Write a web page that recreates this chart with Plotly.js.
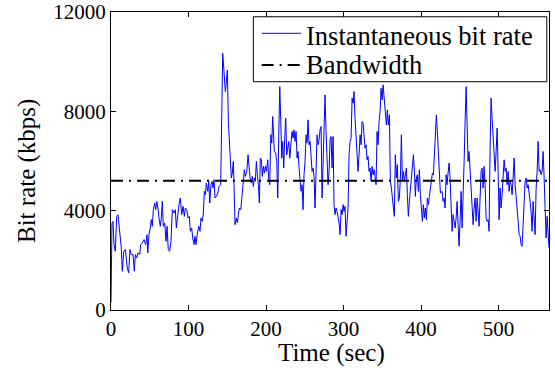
<!DOCTYPE html>
<html>
<head>
<meta charset="utf-8">
<script src="https://cdn.plot.ly/plotly-3.0.1.min.js"></script>
<style>html,body{margin:0;padding:0;background:#fff;}#chart{width:555px;height:372px;}</style>
</head>
<body>
<div id="chart"></div>
<script>
// Time (sec)
var timeSec = [
0,1.3,2.6,3.9,5.5,7.4,9.0,11.2,13.3,14.6,16.4,18.5,19.7,21.0,22.8,24.5,26.2,28.4,30.1,31.4,
33.2,34.8,37.0,38.3,40.4,42.6,44.8,46.5,47.4,49.0,50.7,52.0,53.3,54.6,56.4,57.7,59.0,60.6,61.9,63.6,
64.9,66.2,67.5,69.3,71.0,72.3,73.9,75.7,77.4,79.1,81.3,83.0,84.3,86.1,87.7,89.4,91.2,92.9,94.6,95.9,
97.7,99.4,101.0,102.3,104.1,105.4,107.1,108.4,109.7,111.4,113.2,114.8,116.1,117.8,119.1,120.4,121.7,123.0,124.8,126.1,
127.4,129.0,130.3,131.6,132.9,134.2,135.9,137.7,139.4,141.5,142.8,144.1,145.8,147.5,148.8,150.1,151.4,152.6,153.9,155.2,
156.5,157.8,158.7,160.0,161.7,163.0,164.3,165.5,167.4,168.6,170.3,172.0,173.3,175.1,176.8,178.1,179.4,181.0,182.3,183.6,
184.9,186.2,187.5,188.8,190.1,191.4,192.6,193.9,195.2,196.5,197.8,199.1,200.4,202.2,203.5,204.8,206.1,207.4,208.6,210.7,
212.5,213.8,215.1,216.4,217.7,219.0,220.3,221.5,222.8,224.1,225.4,226.7,228.0,229.3,230.6,
232.3,233.5,234.8,236.1,237.4,238.7,240.0,241.3,242.6,243.9,245.2,246.5,247.7,249.0,250.3,251.6,252.9,254.2,255.5,256.8,
258.1,259.4,260.6,261.9,263.2,264.5,265.8,267.1,268.4,269.7,271.0,272.3,273.5,274.8,276.1,277.4,278.7,280.0,281.3,282.6,
283.9,285.2,286.5,287.7,289.0,290.3,291.6,292.9,294.2,295.5,296.8,298.1,299.4,300.6,301.9,303.2,304.5,305.8,307.1,308.4,
309.7,311.0,312.3,313.5,314.8,316.1,317.4,318.7,320.0,321.3,322.6,323.9,325.2,326.5,327.7,329.0,330.3,331.6,332.9,334.2,
335.5,336.8,338.1,339.4,340.6,341.9,343.2,344.5,345.8,347.1,348.4,349.7,351.0,352.3,
353.9,355.2,356.5,357.8,359.1,360.4,361.7,363.0,364.3,365.5,366.8,368.1,369.4,370.7,372.0,373.3,374.6,375.9,377.2,378.5,
379.7,381.0,382.3,383.6,384.9,386.2,387.5,388.8,390.1,391.4,392.6,393.9,395.2,396.5,397.8,399.1,400.4,401.7,403.0,404.3,
405.5,406.8,408.1,409.4,410.7,412.0,413.3,414.6,415.9,417.2,418.5,419.7,421.0,422.3,423.6,424.9,
427.1,428.4,429.7,431.0,432.3,433.5,434.8,436.1,437.4,438.7,440.0,441.3,442.6,443.9,445.2,446.5,447.7,449.0,450.3,451.6,
452.9,454.2,455.5,456.8,458.1,459.4,460.6,461.9,463.2,464.5,465.8,467.1,468.4,469.7,471.0,472.3,473.5,474.8,476.1,477.4,
478.7,480.0,481.3,482.6,483.9,485.2,486.5,487.7,489.0,490.3,491.6,492.9,494.2,495.5,496.8,498.1,499.4,500.6,501.9,503.2,
504.5,505.8,507.1,508.4,509.7,511.0,512.3,513.5,514.8,516.1,517.4,518.7,520.0,521.3,522.6,523.9,525.2,526.5,527.7,529.0,
530.3,531.6,532.9,534.2,535.5,536.8,538.1,539.4,540.6,541.9,543.2,544.5,545.8,547.1,548.4,549.7,551.0,552.3,553.5,554.8,
556.1,557.4,558.7,560.0,561.3,562.6,563.9,565.0
];
// Instantaneous bit rate (kbps)
var bitRateKbps = [
300,3505,3570,2633,2364,3772,3840,3035,2500,1560,2364,2432,1962,1696,1495,2432,2231,2231,1560,2231,
2100,2300,2231,2633,2700,2834,2633,3035,2300,3035,3304,3638,3370,4040,4308,4040,4375,4107,3705,3370,
3705,4375,3370,3505,2767,3370,2432,2364,2767,4040,3906,4040,3304,3840,4241,4510,3840,4174,3772,4107,
4040,3705,3772,3168,3304,2900,2633,2968,2633,3100,3370,3168,3705,3570,3906,4777,4643,5113,4777,5180,
4308,5046,5180,4911,5247,4510,4576,4710,4978,5046,8261,10340,9600,8796,9198,9668,7590,6786,5648,5314,
5515,5983,5046,3437,3705,3505,3840,4107,4040,4375,5046,5648,5381,5581,6250,5783,5314,5113,5381,4978,
5314,5180,5983,5448,5046,4308,6116,6049,5381,5783,5515,5783,5581,6049,5247,5046,7055,6719,7790,6384,
6317,5983,4510,7055,8997,7590,6116,6786,5716,6920,7723,6250,6451,6786,6116,
6652,7189,6920,7256,6786,7189,6116,6384,5716,5314,4777,5046,4040,5448,5983,7055,6719,7656,6652,6786,
5983,5581,5716,5381,4107,5314,7055,6652,6853,7256,7390,4510,6250,7457,8663,7189,6250,5046,5581,6853,
6987,5716,6987,4241,3840,4107,3973,3705,3505,3035,4040,3840,4241,3973,4174,2968,3705,4107,6250,6786,
6920,8530,8328,8797,7723,7055,6116,5581,6250,7055,6652,7590,7524,7055,6518,6652,6049,6183,5581,5716,
5180,5783,5448,5648,5381,5046,7189,6652,7590,7991,8931,8462,9064,8596,
7991,7457,8060,7457,7857,5180,4911,4375,4107,3772,6250,5314,5849,4375,4510,5314,7055,5180,5581,5180,
5581,5716,4643,3772,4375,4911,5448,5983,6250,5581,4576,5314,5448,4777,5648,4643,4107,3572,4241,3705,
4107,3638,4510,4241,4576,4911,5113,5515,5448,6116,7189,7857,7189,6384,5046,4710,
4777,4375,4510,4107,5448,5046,5515,5916,5314,4375,3168,3840,3638,3304,3705,4375,3437,2566,3570,4777,
3304,4375,5983,7590,8997,7457,5983,6384,5581,4643,3973,3437,4107,4510,3570,4510,3973,3370,4510,5581,
5716,4911,5783,5046,3705,3570,3638,3168,6518,8530,7723,7000,6250,5581,6384,7323,5581,3638,4911,4107,
4643,5314,6049,5581,5716,5046,5581,4777,5180,5046,4643,5314,6116,5046,4643,4241,3570,3035,2968,2633,
2566,3437,4777,5180,5314,4911,5046,4777,4375,3973,3168,4375,3772,3035,4911,5581,6786,5581,5648,5448,
5581,6384,5314,4375,2900,3772,2633,2500
];
var bandwidthKbps = 5200;
var bandwidthTime = [0, 565];
var xTicks = [0, 100, 200, 300, 400, 500];
var yTicks = [0, 4000, 8000, 12000];
var seriesNames = ['Instantaneous bit rate', 'Bandwidth'];
var xTitle = 'Time (sec)';
var yTitle = 'Bit rate (kbps)';

var serif = '"Liberation Serif", "Times New Roman", Times, serif';
var rateLine = {color: '#0000ff', width: 1};
var bwLine = {color: '#000000', width: 2, dash: '12px,6px,2px,6px'};
var traces = [
  {x: timeSec, y: bitRateKbps, type: 'scatter', mode: 'lines', name: seriesNames[0], line: rateLine},
  {x: bandwidthTime, y: bandwidthTime.map(function(){return bandwidthKbps;}), type: 'scatter', mode: 'lines',
   name: seriesNames[1], line: bwLine}
];
var axisCommon = {
  ticks: 'inside', ticklen: 5, tickwidth: 1, tickcolor: '#000', mirror: 'ticks',
  showline: true, linecolor: '#000', linewidth: 1, showgrid: false, zeroline: false,
  tickfont: {family: serif, size: 21, color: '#000'}
};
// legend box drawn in paper coordinates (MATLAB style)
var lg = {x0: 0.325, x1: 0.995, y0: 0.766, y1: 0.984, sx0: 0.344, sx1: 0.434, tx: 0.441,
          rowLine: [0.9285, 0.8221], rowText: [0.9200, 0.8215]};
var shapes = [
  {type: 'rect', xref: 'paper', yref: 'paper', x0: lg.x0, x1: lg.x1, y0: lg.y0, y1: lg.y1,
   fillcolor: '#fff', line: {color: '#000', width: 1}, layer: 'above'},
  {type: 'line', xref: 'paper', yref: 'paper', x0: lg.sx0, x1: lg.sx1, y0: lg.rowLine[0], y1: lg.rowLine[0],
   line: rateLine, layer: 'above'},
  {type: 'line', xref: 'paper', yref: 'paper', x0: lg.sx0, x1: lg.sx1, y0: lg.rowLine[1], y1: lg.rowLine[1],
   line: bwLine, layer: 'above'}
];
var annotations = seriesNames.map(function(n, i) {
  return {text: n, xref: 'paper', yref: 'paper', x: lg.tx, y: lg.rowText[i], xanchor: 'left', yanchor: 'middle',
          showarrow: false, font: {family: serif, size: 26.5, color: '#000'}};
});
// axis titles placed like MATLAB labels
annotations.push({text: xTitle, xref: 'paper', yref: 'paper', x: 0.5023, y: -0.1450, xanchor: 'center',
  yanchor: 'middle', showarrow: false, borderpad: 0, font: {family: serif, size: 25, color: '#000'}});
annotations.push({text: yTitle, xref: 'paper', yref: 'paper', x: -0.1918, y: 0.4664, xanchor: 'center',
  yanchor: 'middle', textangle: -90, showarrow: false, font: {family: serif, size: 25, color: '#000'}});
var layout = {
  width: 555, height: 372,
  margin: {l: 111, r: 6, t: 12, b: 62},
  paper_bgcolor: '#fff', plot_bgcolor: '#fff',
  font: {family: serif, color: '#000', size: 21},
  showlegend: false,
  shapes: shapes,
  annotations: annotations,
  xaxis: Object.assign({}, axisCommon, {range: [0, 565], tickvals: xTicks}),
  yaxis: Object.assign({}, axisCommon, {range: [0, 12000], tickvals: yTicks, tickformat: 'd'})
};
Plotly.newPlot('chart', traces, layout, {staticPlot: true, displayModeBar: false});
</script>
</body>
</html>
